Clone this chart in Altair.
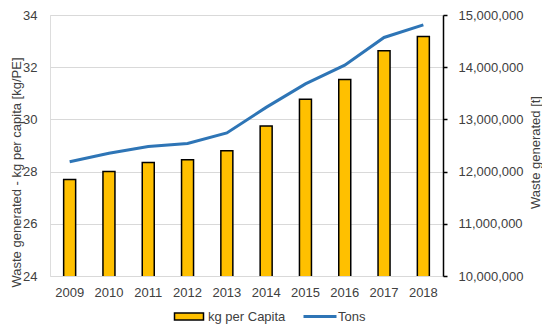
import altair as alt
import pandas as pd

years = ["2009", "2010", "2011", "2012", "2013", "2014", "2015", "2016", "2017", "2018"]
kg_per_capita = [27.7, 28.0, 28.35, 28.45, 28.8, 29.75, 30.77, 31.53, 32.63, 33.18]
tons = [12190000, 12350000, 12480000, 12540000, 12740000, 13230000, 13680000, 14040000, 14570000, 14810000]
left_ticks = [24, 26, 28, 30, 32, 34]
right_ticks = [10000000, 11000000, 12000000, 13000000, 14000000, 15000000]

df = pd.DataFrame({
    "year": years,
    "kg": kg_per_capita,
    "tons": tons,
    "s1": ["kg per Capita"] * len(years),
    "s2": ["Tons"] * len(years),
})

FONT = "Liberation Sans"
TXT = "#404040"

x = alt.X("year:N", title=None,
          scale=alt.Scale(paddingInner=0, paddingOuter=0),
          axis=alt.Axis(labelAngle=0, domain=False, ticks=False, tickSize=0,
                        labelPadding=10, labelFontSize=13, labelColor=TXT, labelFont=FONT))

bars = alt.Chart(df).mark_bar(size=12, stroke="black", strokeWidth=1.5, clip=True).encode(
    x=x,
    y=alt.Y("kg:Q", scale=alt.Scale(domain=[24, 34], nice=False, zero=False),
            axis=alt.Axis(values=left_ticks, title="Waste generated - kg per capita [kg/PE]",
                          domain=False, ticks=False, tickSize=0, labelPadding=13,
                          grid=True, gridColor="#d9d9d9", gridWidth=1,
                          labelFontSize=13, labelColor=TXT, labelFont=FONT,
                          titleFontSize=13, titleFontWeight="normal", titleColor=TXT, titleFont=FONT,
                          titleX=-34, titleY=157, titleBaseline="middle", titleAngle=270)),
    fill=alt.Fill("s1:N", scale=alt.Scale(domain=["kg per Capita"], range=["#FFC000"]),
                  legend=alt.Legend(title=None, orient="none", legendX=122, legendY=295,
                                    padding=0, symbolType="M-1,-0.85H6.25V0.85H-1Z",
                                    symbolSize=64, symbolStrokeColor="black", symbolStrokeWidth=1.5,
                                    symbolFillColor="#FFC000",
                                    labelOffset=23, labelFontSize=13, labelColor=TXT, labelFont=FONT)),
)

line = alt.Chart(df).mark_line(strokeWidth=3).encode(
    x=x,
    y=alt.Y("tons:Q", scale=alt.Scale(domain=[10000000, 15000000], nice=False, zero=False),
            axis=alt.Axis(orient="right", values=right_ticks, format=",.0f",
                          title="Waste generated [t]", domain=True, domainColor="black",
                          domainWidth=1.5, ticks=True, tickColor="black", tickSize=4, tickWidth=1.5,
                          labelPadding=11, grid=False,
                          labelFontSize=13, labelColor=TXT, labelFont=FONT,
                          titleFontSize=13, titleFontWeight="normal", titleColor=TXT, titleFont=FONT,
                          titleX=92, titleY=137, titleBaseline="middle", titleAngle=270)),
    stroke=alt.Stroke("s2:N", scale=alt.Scale(domain=["Tons"], range=["#2E75B6"]),
                      legend=alt.Legend(title=None, orient="none", legendX=251, legendY=295,
                                        padding=0, symbolType="M-1,0H7.25",
                                        symbolSize=64, symbolStrokeWidth=3,
                                        symbolFillColor="transparent",
                                        labelOffset=24, labelFontSize=13, labelColor=TXT, labelFont=FONT)),
)

chart = alt.layer(bars, line).resolve_scale(y="independent", fill="independent", stroke="independent").properties(
    width=393, height=261,
    padding={"left": 42, "top": 7, "right": 99, "bottom": 49},
    autosize=alt.AutoSizeParams(type="none"),
).configure_view(stroke=None).configure(background="white")

chart.save("out.html", embed_options={"renderer": "svg", "actions": False})
